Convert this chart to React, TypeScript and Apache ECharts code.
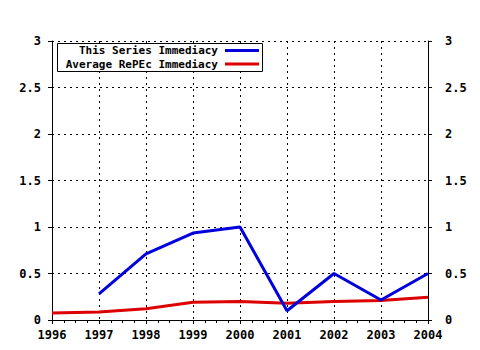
import React, { useEffect, useRef } from "react";
import * as echarts from "echarts";

const years = [1996, 1997, 1998, 1999, 2000, 2001, 2002, 2003, 2004];
const seriesImmediacy: (number | null)[] = [null, 0.28, 0.71, 0.935, 1.0, 0.1, 0.5, 0.215, 0.5];
const repecImmediacy: number[] = [0.075, 0.085, 0.12, 0.19, 0.2, 0.18, 0.2, 0.21, 0.245];
const legendLabels = ["This Series Immediacy", "Average RePEc Immediacy"];

const BLUE = "#0000dc";
const RED = "#dc0000";
const FONT = "DejaVu Sans Mono";

export default function App() {
  const ref = useRef<HTMLDivElement>(null);
  useEffect(() => {
    if (!ref.current) return;
    const chart = echarts.init(ref.current, undefined, { renderer: "svg" });
    const labelStyle = { color: "#000", fontFamily: FONT, fontWeight: "bold" as const, fontSize: 12 };
    const gridLine = { show: true, lineStyle: { color: "#000", type: [2, 4] as any, width: 1 } };
    const axisLine = { show: true, lineStyle: { color: "#000", width: 1 } };
    chart.setOption({
      animation: false,
      backgroundColor: "#fff",
      grid: { left: 52, right: 52, top: 41, bottom: 30 },
      xAxis: [
        {
          type: "value",
          min: 1996,
          max: 2004,
          interval: 1,
          position: "bottom",
          axisLine,
          axisTick: { show: true, length: 4, lineStyle: { color: "#000" } },
          minorTick: { show: true, splitNumber: 4, length: 3, lineStyle: { color: "#000" } },
          axisLabel: { ...labelStyle, margin: 9, formatter: (v: number) => String(v) },
          splitLine: gridLine,
        },
        {
          type: "value",
          min: 1996,
          max: 2004,
          interval: 1,
          position: "top",
          axisLine,
          axisTick: { show: true, length: 4, inside: true, lineStyle: { color: "#000" } },
          minorTick: { show: true, splitNumber: 4, length: 3, lineStyle: { color: "#000" } },
          axisLabel: { show: false },
          splitLine: { show: false },
        },
      ],
      yAxis: [
        {
          type: "value",
          min: 0,
          max: 3,
          interval: 0.5,
          position: "left",
          axisLine,
          axisTick: { show: true, length: 4, lineStyle: { color: "#000" } },
          axisLabel: { ...labelStyle, margin: 11 },
          splitLine: gridLine,
        },
        {
          type: "value",
          min: 0,
          max: 3,
          interval: 0.5,
          position: "right",
          axisLine,
          axisTick: { show: true, length: 4, lineStyle: { color: "#000" } },
          axisLabel: { ...labelStyle, margin: 17 },
          splitLine: { show: false },
        },
      ],
      series: [
        {
          name: legendLabels[0],
          type: "line",
          data: years.map((y, i) => [y, seriesImmediacy[i]]),
          showSymbol: false,
          connectNulls: false,
          lineStyle: { color: BLUE, width: 3 },
          itemStyle: { color: BLUE },
          z: 3,
        },
        {
          name: legendLabels[1],
          type: "line",
          data: years.map((y, i) => [y, repecImmediacy[i]]),
          showSymbol: false,
          lineStyle: { color: RED, width: 3 },
          itemStyle: { color: RED },
          z: 2,
        },
      ],
      graphic: [
        {
          type: "rect",
          shape: { x: 57.5, y: 43.5, width: 205, height: 28 },
          style: { fill: "#fff", stroke: "#000", lineWidth: 1 },
          z: 10,
        },
        {
          type: "text",
          x: 218,
          y: 50.5,
          style: { text: legendLabels[0], align: "right", verticalAlign: "middle", lineHeight: 11, fill: "#000", font: `bold 11px "${FONT}"` },
          z: 11,
        },
        {
          type: "text",
          x: 218,
          y: 64,
          style: { text: legendLabels[1], align: "right", verticalAlign: "middle", lineHeight: 11, fill: "#000", font: `bold 11px "${FONT}"` },
          z: 11,
        },
        {
          type: "line",
          shape: { x1: 225, y1: 50.5, x2: 259, y2: 50.5 },
          style: { stroke: BLUE, lineWidth: 3 },
          z: 11,
        },
        {
          type: "line",
          shape: { x1: 225, y1: 64, x2: 259, y2: 64 },
          style: { stroke: RED, lineWidth: 3 },
          z: 11,
        },
      ],
    });
    return () => chart.dispose();
  }, []);
  return <div ref={ref} style={{ width: 480, height: 350, position: "absolute", left: 0, top: 0 }} />;
}
